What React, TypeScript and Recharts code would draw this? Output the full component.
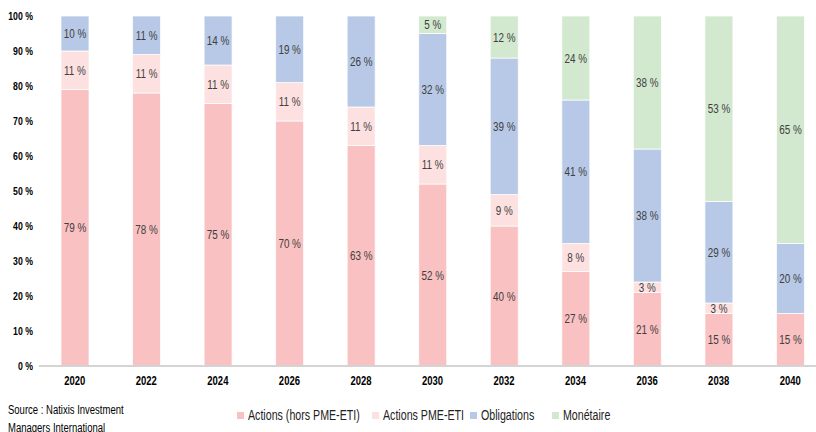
import React from 'react';
import { BarChart, Bar, XAxis, YAxis, LabelList } from 'recharts';

const years = ['2020', '2022', '2024', '2026', '2028', '2030', '2032', '2034', '2036', '2038', '2040'];
const actionsHors = [79, 78, 75, 70, 63, 52, 40, 27, 21, 15, 15];
const actionsPme = [11, 11, 11, 11, 11, 11, 9, 8, 3, 3, 0];
const obligations = [10, 11, 14, 19, 26, 32, 39, 41, 38, 29, 20];
const monetaire = [0, 0, 0, 0, 0, 5, 12, 24, 38, 53, 65];
const yTicks = [0, 10, 20, 30, 40, 50, 60, 70, 80, 90, 100];

const series = [
  { key: 'actionsHors', name: 'Actions (hors PME-ETI)', color: '#f9c1c1' },
  { key: 'actionsPme', name: 'Actions PME-ETI', color: '#fde0e0' },
  { key: 'obligations', name: 'Obligations', color: '#b7c9e6' },
  { key: 'monetaire', name: 'Monétaire', color: '#d2e8cf' },
];

const data = years.map((year, i) => ({
  year,
  actionsHors: actionsHors[i],
  actionsPme: actionsPme[i],
  obligations: obligations[i],
  monetaire: monetaire[i],
}));

const FONT = '"Liberation Sans", Arial, sans-serif';
const SQUEEZE = 0.76;
const legendLeft = [237, 372, 470, 552];

// svg text squeezed horizontally to mimic a condensed face
const Narrow = ({ x, y, anchor, size, bold, fill, children }: any) => (
  <g transform={`translate(${x},${y}) scale(${SQUEEZE},1)`}>
    <text
      x={0}
      y={0}
      textAnchor={anchor}
      dominantBaseline="central"
      fontSize={size}
      fontWeight={bold ? 'bold' : 'normal'}
      fill={fill}
      fontFamily={FONT}
    >
      {children}
    </text>
  </g>
);

const XTick = ({ x, y, payload }: any) => (
  <Narrow x={x} y={y + 6} anchor="middle" size={12.5} bold fill="#000">
    {payload.value}
  </Narrow>
);

const YTick = ({ x, y, payload }: any) => (
  <Narrow x={x} y={y} anchor="end" size={11.5} bold fill="#000">
    {`${payload.value} %`}
  </Narrow>
);

const SegLabel = (props: any) => {
  const vb = props.viewBox ?? props;
  const v = props.value;
  if (typeof v !== 'number' || v <= 0) return null;
  return (
    <Narrow x={vb.x + vb.width / 2} y={vb.y + vb.height / 2} anchor="middle" size={13} fill="#404040">
      {`${v} %`}
    </Narrow>
  );
};

export default function App() {
  return (
    <div
      style={{
        position: 'fixed',
        left: 0,
        top: 0,
        width: 816,
        height: 432,
        overflow: 'hidden',
        background: '#fff',
        fontFamily: FONT,
      }}
    >
      <BarChart width={826} height={400} data={data} margin={{ top: 16, right: 0, left: 0, bottom: 0 }}>
        <XAxis
          dataKey="year"
          height={34}
          tickLine={false}
          tickSize={6}
          tickMargin={2}
          axisLine={{ stroke: '#d4d4d4', strokeWidth: 2 }}
          tick={<XTick />}
        />
        <YAxis
          domain={[0, 100]}
          ticks={yTicks}
          width={39}
          axisLine={false}
          tickLine={false}
          tickSize={4}
          tickMargin={2}
          tick={<YTick />}
        />
        {series.map((s) => (
          <Bar
            key={s.key}
            dataKey={s.key}
            name={s.name}
            stackId="a"
            fill={s.color}
            stroke="#fff"
            strokeWidth={0.75}
            barSize={28}
            isAnimationActive={false}
          >
            <LabelList dataKey={s.key} position="center" content={<SegLabel />} />
          </Bar>
        ))}
      </BarChart>

      <div
        style={{
          position: 'absolute',
          left: 8,
          top: 401,
          fontSize: 12.5,
          lineHeight: '18px',
          color: '#000',
          whiteSpace: 'nowrap',
          transform: `scaleX(${SQUEEZE})`,
          transformOrigin: '0 0',
        }}
      >
        <div>Source : Natixis Investment</div>
        <div>Managers International</div>
      </div>

      {series.map((s, i) => (
        <div
          key={s.key}
          style={{
            position: 'absolute',
            left: legendLeft[i],
            top: 406,
            height: 18,
            display: 'flex',
            alignItems: 'center',
            whiteSpace: 'nowrap',
          }}
        >
          <span style={{ display: 'inline-block', width: 7, height: 7, background: s.color, marginRight: 4 }} />
          <span
            style={{
              display: 'inline-block',
              fontSize: 14,
              color: '#222',
              transform: `scaleX(${SQUEEZE})`,
              transformOrigin: '0 50%',
            }}
          >
            {s.name}
          </span>
        </div>
      ))}
    </div>
  );
}
